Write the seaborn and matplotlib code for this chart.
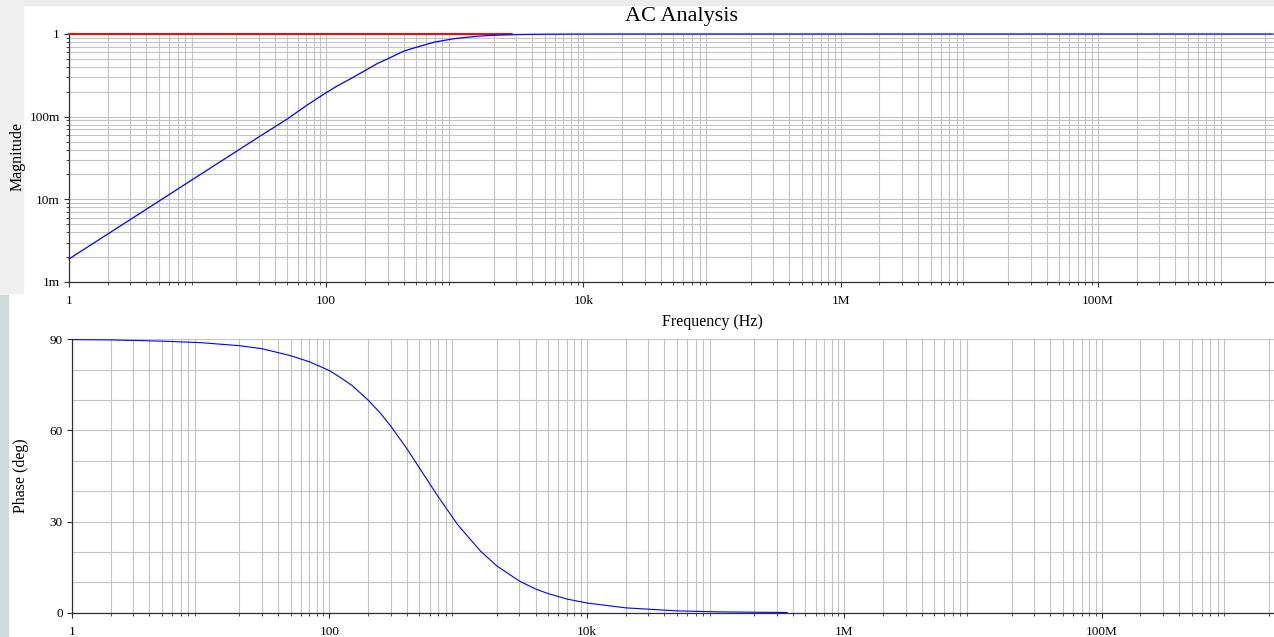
import matplotlib
matplotlib.use("Agg")
import matplotlib.pyplot as plt
from matplotlib.ticker import FixedLocator, FixedFormatter, LogLocator, MultipleLocator, NullFormatter
import seaborn as sns
import pandas as pd

# values
freq = [1, 2, 5, 10, 20, 30, 50, 70, 100, 120, 150, 200, 250, 300, 400, 500, 700,
        1000, 1500, 2000, 3000, 4000, 5000, 7000, 10000, 20000, 50000, 100000,
        1e6, 1e7, 1e8, 1e9, 2.3e9]
magnitude = [0.0019, 0.0038, 0.0095, 0.019, 0.038, 0.057, 0.094, 0.136, 0.195, 0.232,
             0.28, 0.36, 0.44, 0.50, 0.62, 0.69, 0.80, 0.88, 0.94, 0.965, 0.985, 0.99,
             0.994, 0.997, 0.998, 0.9995, 1.0, 1.0, 1.0, 1.0, 1.0, 1.0, 1.0]

# source trace (1 V), visible up to about 3 kHz before the output covers it
vin_freq = [1, 10, 100, 1000, 2800]
vin = [1.0, 1.0, 1.0, 1.0, 1.0]

phase_freq = [1, 2, 5, 10, 20, 30, 50, 70, 100, 120, 150, 200, 250, 300, 400, 500,
              700, 1000, 1500, 2000, 3000, 4000, 5000, 7000, 10000, 20000, 50000,
              100000, 200000, 360000]
phase = [89.9, 89.8, 89.4, 88.9, 87.9, 86.9, 84.6, 82.6, 79.7, 77.6, 74.8, 70.0, 65.6,
         61.4, 54.0, 47.7, 38.2, 28.8, 20.2, 15.4, 10.4, 7.8, 6.3, 4.5, 3.2, 1.6, 0.6,
         0.3, 0.15, 0.08]

x_ticks = [1, 100, 1e4, 1e6, 1e8]
x_labels = ["1", "100", "10k", "1M", "100M"]
mag_ticks = [1e-3, 1e-2, 1e-1, 1]
mag_labels = ["1m", "10m", "100m", "1"]
phase_ticks = [0, 30, 60, 90]
phase_labels = ["0", "30", "60", "90"]

df_mag = pd.DataFrame({"f": freq, "mag": magnitude})
df_vin = pd.DataFrame({"f": vin_freq, "vin": vin})
df_ph = pd.DataFrame({"f": phase_freq, "phase": phase})

sns.set_style("white")
plt.rcParams["font.family"] = ["Liberation Serif", "DejaVu Serif"]
plt.rcParams["text.color"] = "black"
plt.rcParams["xtick.labelcolor"] = "black"
plt.rcParams["ytick.labelcolor"] = "black"

fig = plt.figure(figsize=(12.74, 6.37), dpi=100)
fig.patch.set_facecolor("white")

# faint strips of the slide background around the screenshot
fig.patches.append(plt.Rectangle((0, 0.992), 1, 0.008, transform=fig.transFigure,
                                 color="#ececec", zorder=0))
fig.patches.append(plt.Rectangle((0, 0.54), 0.018, 0.46, transform=fig.transFigure,
                                 color="#f0f0f0", zorder=0))
fig.patches.append(plt.Rectangle((0, 0), 0.0065, 0.537, transform=fig.transFigure,
                                 color="#cfdcdb", zorder=0))

ax1 = fig.add_axes([69 / 1274, (637 - 282) / 637, (1274 - 69) / 1274, 248 / 637])
ax2 = fig.add_axes([72 / 1274, (637 - 612.7) / 637, (1274 - 72) / 1274, 273.4 / 637])

grid_col = "#c4c4c4"

sns.lineplot(data=df_vin, x="f", y="vin", ax=ax1, color="#ff0000", linewidth=1.4,
             clip_on=False, zorder=3)
sns.lineplot(data=df_mag, x="f", y="mag", ax=ax1, color="#0000ff", linewidth=0.9,
             clip_on=False, zorder=4)
sns.lineplot(data=df_ph, x="f", y="phase", ax=ax2, color="#0000ff", linewidth=0.8, zorder=3)

for ax in (ax1, ax2):
    ax.set_xscale("log")
    ax.xaxis.set_major_locator(FixedLocator(x_ticks))
    ax.xaxis.set_major_formatter(FixedFormatter(x_labels))
    ax.xaxis.set_minor_locator(LogLocator(base=10, subs=range(2, 10), numticks=30))
    ax.xaxis.set_minor_formatter(NullFormatter())
    ax.set_xlabel("")
    ax.set_ylabel("")
    ax.grid(True, which="both", color=grid_col, linewidth=0.8)
    ax.set_axisbelow(True)
    for s in ("top", "right"):
        ax.spines[s].set_visible(False)
    for s in ("left", "bottom"):
        ax.spines[s].set_color("#303030")
        ax.spines[s].set_linewidth(0.9)
    ax.tick_params(axis="both", which="major", direction="out", length=3.5, width=0.8,
                   color="#303030", labelsize=9.5, pad=3, bottom=True, left=True)
    ax.tick_params(axis="both", which="minor", direction="out", length=2, width=0.6,
                   color="#303030", bottom=True)

ax1.set_xlim(1, 10 ** 9.37)
ax2.set_xlim(1, 10 ** 9.34)

ax1.set_yscale("log")
ax1.set_ylim(1e-3, 1)
ax1.yaxis.set_major_locator(FixedLocator(mag_ticks))
ax1.yaxis.set_major_formatter(FixedFormatter(mag_labels))
ax1.yaxis.set_minor_locator(LogLocator(base=10, subs=range(2, 10), numticks=10))
ax1.yaxis.set_minor_formatter(NullFormatter())
ax1.tick_params(axis="y", which="minor", left=True, length=2)
ax1.tick_params(axis="x", pad=6)

ax2.set_ylim(0, 90)
ax2.yaxis.set_major_locator(FixedLocator(phase_ticks))
ax2.yaxis.set_major_formatter(FixedFormatter(phase_labels))
ax2.yaxis.set_minor_locator(MultipleLocator(10))
ax2.tick_params(axis="y", which="minor", left=False)
ax2.tick_params(axis="x", pad=6)

fig.text(682 / 1274, (637 - 17) / 637, "AC Analysis", ha="center", va="center", fontsize=16)
fig.text(712 / 1274, (637 - 322) / 637, "Frequency (Hz)", ha="center", va="center", fontsize=11.5)
fig.text(17.5 / 1274, (637 - 157) / 637, "Magnitude", ha="center", va="center",
         rotation=90, fontsize=11.5)
fig.text(21 / 1274, (637 - 476) / 637, "Phase (deg)", ha="center", va="center",
         rotation=90, fontsize=11.5)

fig.savefig("out.png", dpi=100)
